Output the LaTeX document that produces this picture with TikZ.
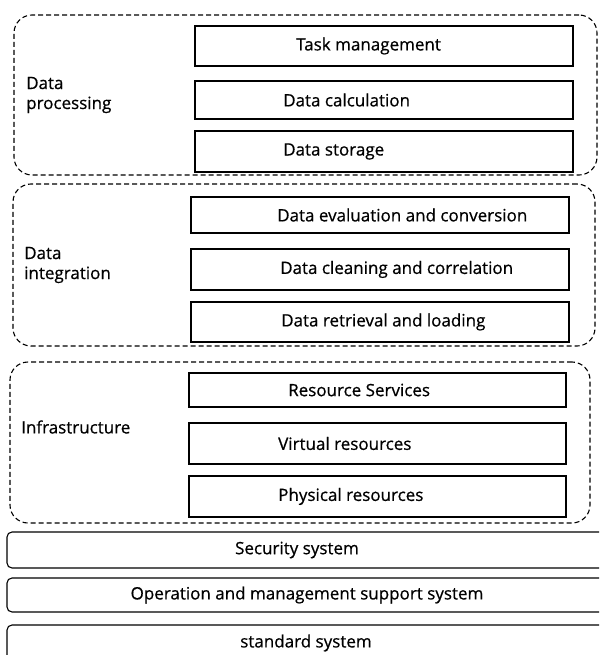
\documentclass[tikz,border=0pt]{standalone}
\usepackage{fontspec}
\setmainfont{Open Sans}[FakeBold=0.6]
\begin{document}
\begin{tikzpicture}[x=1pt,y=-1pt,
  group/.style={draw, dash pattern=on 5pt off 3pt, rounded corners=18pt, line width=1.1pt, inner sep=0pt},
  item/.style={draw, line width=1.3pt, inner sep=0pt},
  bar/.style={draw, line width=1.1pt, rounded corners=5pt, inner sep=0pt},
  txt/.style={font=\fontsize{17}{20}\selectfont, inner sep=0pt},
  lbl/.style={font=\fontsize{17}{20}\selectfont, inner sep=0pt, align=left, anchor=west},
]
\useasboundingbox (0,0) rectangle (599,655);
\clip (0,0) rectangle (599,655);

% groups
\node[group, minimum width=583pt, minimum height=160pt] (g1) at (305.5,95) {};
\node[group, minimum width=582pt, minimum height=162pt] (g2) at (304,265) {};
\node[group, minimum width=580pt, minimum height=161pt] (g3) at (300,442.5) {};

% group labels
\node[lbl] (l1) at (26,95) {Data\\processing};
\node[lbl] (l2) at (24,265) {Data\\integration};
\node[lbl] (l3) at (21,427) {Infrastructure};

% items group 1
\node[item, minimum width=378pt, minimum height=40pt] (tm) at (384,46) {};
\node[item, minimum width=378pt, minimum height=38pt] (dc) at (384,100) {};
\node[item, minimum width=378pt, minimum height=41pt] (ds) at (384,151.5) {};
\node[txt, anchor=west] (ttm) at (296,46) {Task management};
\node[txt, anchor=west] (tdc) at (283,100) {Data calculation};
\node[txt, anchor=west] (tds) at (283,151.5) {Data storage};

% items group 2
\node[item, minimum width=378pt, minimum height=36pt] (ev) at (380,215) {};
\node[item, minimum width=378pt, minimum height=41pt] (cl) at (380,269.5) {};
\node[item, minimum width=378pt, minimum height=40pt] (rl) at (380,322) {};
\node[txt, anchor=west] (tev) at (277,215) {Data evaluation and conversion};
\node[txt, anchor=west] (tcl) at (280,269.5) {Data cleaning and correlation};
\node[txt, anchor=west] (trl) at (281,322) {Data retrieval and loading};

% items group 3
\node[item, minimum width=377pt, minimum height=34pt] (rs) at (377.5,390) {};
\node[item, minimum width=377pt, minimum height=41pt] (vr) at (377.5,443.5) {};
\node[item, minimum width=377pt, minimum height=41pt] (pr) at (377.5,496.5) {};
\node[txt, anchor=west] (trs) at (288,390) {Resource Services};
\node[txt, anchor=west] (tvr) at (278,443.5) {Virtual resources};
\node[txt, anchor=west] (tpr) at (278,496.5) {Physical resources};

% bottom bars
\node[bar, minimum width=613pt, minimum height=36pt] (sec) at (313.5,550) {};
\node[bar, minimum width=613pt, minimum height=34pt] (ops) at (313.5,595) {};
\node[bar, minimum width=613pt, minimum height=40pt] (std) at (313.5,645) {};
\node[txt] (tsec) at (297,550) {Security system};
\node[txt] (tops) at (307,595) {Operation and management support system};
\node[txt] (tstd) at (306,643) {standard system};
\end{tikzpicture}
\end{document}
